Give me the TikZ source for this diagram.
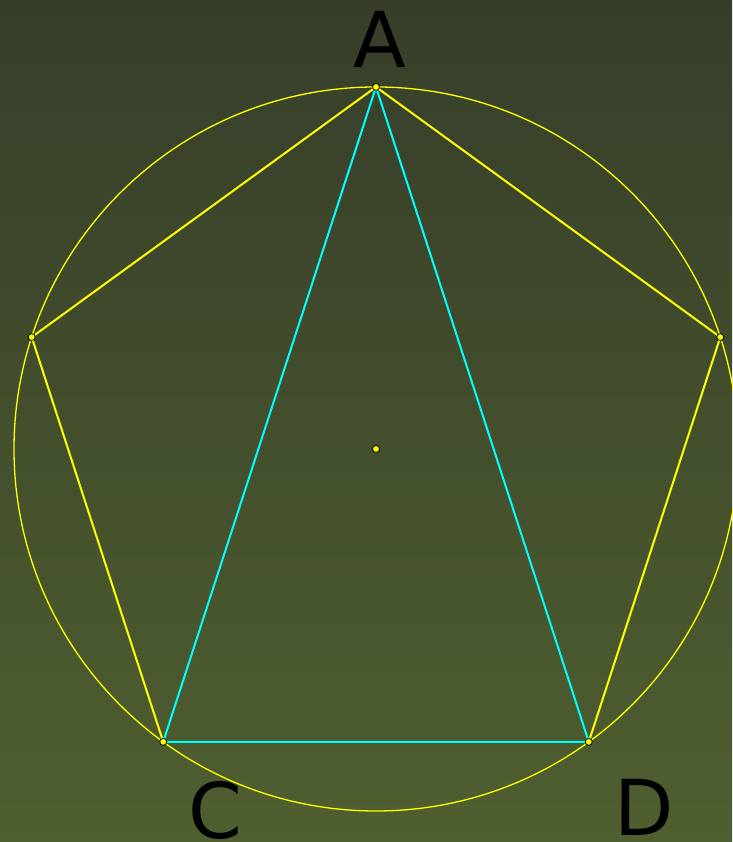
\documentclass[tikz,border=0pt]{standalone}
\usepackage{fontspec}
\setmainfont{DejaVu Sans}
\usetikzlibrary{calc}

\definecolor{bgtop}{HTML}{363E2A}
\definecolor{bgbot}{HTML}{4F5F2F}
\definecolor{ylw}{RGB}{255,255,0}
\definecolor{cyn}{RGB}{0,255,255}

\tikzset{
  side/.style={ylw, line width=2pt},
  diag/.style={cyn, line width=2pt},
  ring/.style={ylw, line width=1.3pt},
  dot/.style={circle, fill=ylw, draw=black, line width=0.8pt, inner sep=0pt, minimum size=7pt},
  lbl/.style={font=\fontsize{77}{80}\selectfont, text=black, anchor=base, inner sep=0pt}
}

\begin{document}
\begin{tikzpicture}[x=1pt, y=1pt]
  % background
  \shade[top color=bgtop, bottom color=bgbot] (0,0) rectangle (732,842);
  \useasboundingbox (0,0) rectangle (732,842);

  % circumcircle and pentagon vertices
  \coordinate (O) at (376,393);
  \coordinate (A) at ($(O)+(90:362)$);
  \coordinate (B) at ($(O)+(162:362)$);
  \coordinate (C) at ($(O)+(234:362)$);
  \coordinate (D) at ($(O)+(306:362)$);
  \coordinate (E) at ($(O)+(18:362)$);
  \draw[ring] (O) circle (362);

  % pentagon sides
  \draw[side] (A) -- (B) -- (C);
  \draw[side] (D) -- (E) -- (A);

  % triangle ACD
  \draw[diag, line join=round] (A) -- (C) -- (D) -- cycle;

  % points
  \foreach \p in {O,A,B,C,D,E}
    \node[dot] at (\p) {};

  % labels
  \node[lbl] (la) at (380,774) {A};
  \node[lbl] (lc) at (215,4) {C};
  \node[lbl] (ld) at (644,6) {D};
\end{tikzpicture}
\end{document}
